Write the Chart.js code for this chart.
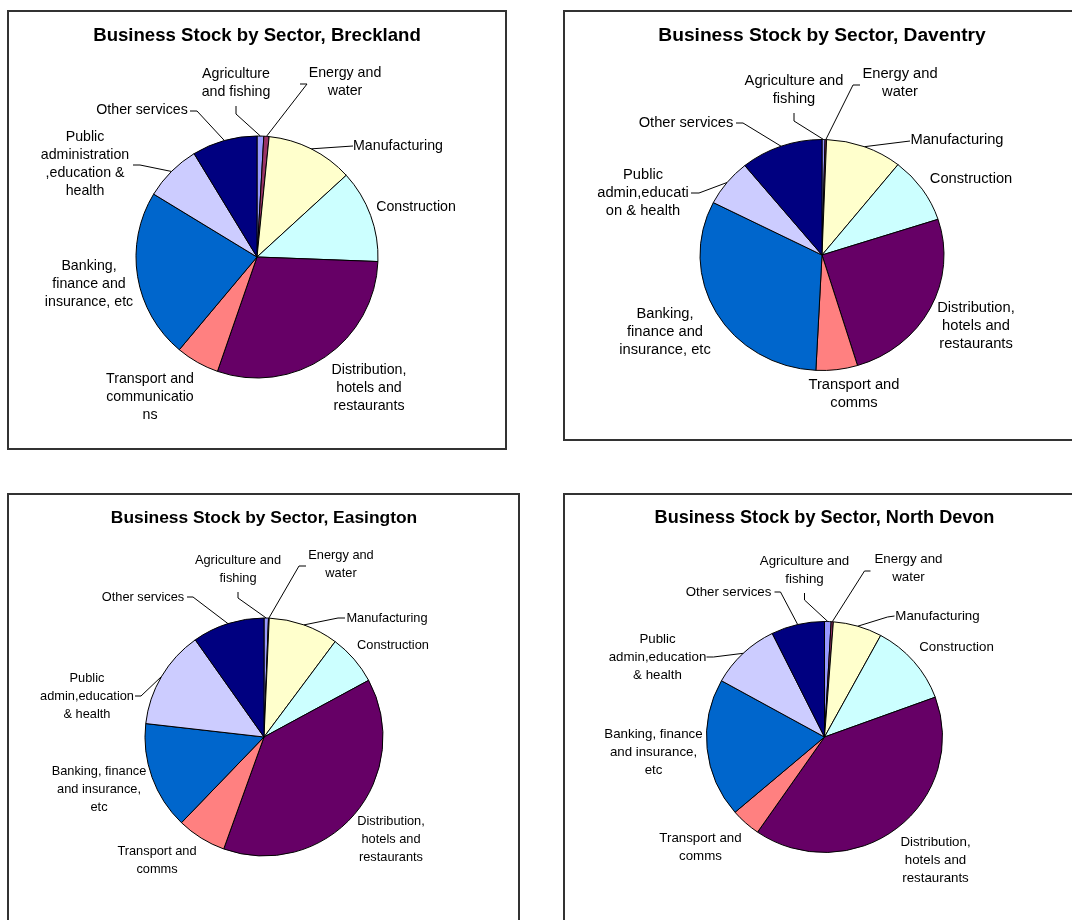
<!DOCTYPE html>
<html>
<head>
<meta charset="utf-8">
<title>Business Stock by Sector</title>
<script src="https://cdn.jsdelivr.net/npm/chart.js@4.4.1/dist/chart.umd.min.js"></script>
<style>
  html, body { margin: 0; padding: 0; background: #fff; overflow: hidden; }
  body { width: 1072px; height: 920px; position: relative; }
  .panel { position: absolute; border: 2px solid #333; box-sizing: border-box; background: #fff; }
  .panel canvas { display: block; }
</style>
</head>
<body>
<div class="panel" id="p-breckland"><canvas id="c-breckland"></canvas></div>
<div class="panel" id="p-daventry"><canvas id="c-daventry"></canvas></div>
<div class="panel" id="p-easington"><canvas id="c-easington"></canvas></div>
<div class="panel" id="p-northdevon"><canvas id="c-northdevon"></canvas></div>

<script>
// ---- data ----
const sectors = [
    "Agriculture and fishing",
    "Energy and water",
    "Manufacturing",
    "Construction",
    "Distribution, hotels and restaurants",
    "Transport and communications",
    "Banking, finance and insurance, etc",
    "Public administration, education & health",
    "Other services"
];

// share of business stock, %
const brecklandShares = [0.9, 0.7, 11.6, 12.4, 29.7, 5.8, 22.6, 7.6, 8.7];
const daventryShares = [0.4, 0.2, 10.1, 9.3, 25.3, 5.5, 31.7, 6.6, 10.9];
const easingtonShares = [0.6, 0.1, 9.5, 6.9, 38.4, 6.7, 14.6, 13.4, 9.8];
const northDevonShares = [0.9, 0.3, 6.7, 11.5, 40.2, 4.1, 19.4, 9.6, 7.3];

// slice captions, one entry per line of text
const brecklandLabels = [
    ["Agriculture", "and fishing"],
    ["Energy and", "water"],
    ["Manufacturing"],
    ["Construction"],
    ["Distribution,", "hotels and", "restaurants"],
    ["Transport and", "communicatio", "ns"],
    ["Banking,", "finance and", "insurance, etc"],
    ["Public", "administration", ",education &", "health"],
    ["Other services"]
];
const daventryLabels = [
    ["Agriculture and", "fishing"],
    ["Energy and", "water"],
    ["Manufacturing"],
    ["Construction"],
    ["Distribution,", "hotels and", "restaurants"],
    ["Transport and", "comms"],
    ["Banking,", "finance and", "insurance, etc"],
    ["Public", "admin,educati", "on & health"],
    ["Other services"]
];
const easingtonLabels = [
    ["Agriculture and", "fishing"],
    ["Energy and", "water"],
    ["Manufacturing"],
    ["Construction"],
    ["Distribution,", "hotels and", "restaurants"],
    ["Transport and", "comms"],
    ["Banking, finance", "and insurance,", "etc"],
    ["Public", "admin,education", "& health"],
    ["Other services"]
];
const northDevonLabels = [
    ["Agriculture and", "fishing"],
    ["Energy and", "water"],
    ["Manufacturing"],
    ["Construction"],
    ["Distribution,", "hotels and", "restaurants"],
    ["Transport and", "comms"],
    ["Banking, finance", "and insurance,", "etc"],
    ["Public", "admin,education", "& health"],
    ["Other services"]
];

// ---- styling ----
const sectorColours = ["#9999FF", "#993366", "#FFFFCC", "#CCFFFF", "#660066", "#FF8080", "#0066CC", "#CCCCFF", "#000080"];
const FONT = "'Liberation Sans', Arial, sans-serif";

// caption placement relative to the pie centre: text centre (dx, dy),
// optional leader = [end x, end y, elbow x, elbow y] that runs on to the slice edge
const brecklandPlaces = [
    { dx: -21, dy: -174, leader: [-21, -151, -21, -143] },
    { dx: 88, dy: -175, leader: [43, -173, 50, -173] },
    { dx: 141, dy: -111, leader: [96, -111, 96, -111] },
    { dx: 159, dy: -50 },
    { dx: 112, dy: 131 },
    { dx: -107, dy: 140 },
    { dx: -168, dy: 27 },
    { dx: -172, dy: -93, leader: [-124, -92, -117, -92] },
    { dx: -115, dy: -147, leader: [-67, -146, -60, -146] }
];
const daventryPlaces = [
    { dx: -28, dy: -165, leader: [-28, -142, -28, -134] },
    { dx: 78, dy: -172, leader: [38, -170, 31, -170] },
    { dx: 135, dy: -115, leader: [88, -114, 88, -114] },
    { dx: 149, dy: -76 },
    { dx: 154, dy: 71 },
    { dx: 32, dy: 139 },
    { dx: -157, dy: 77 },
    { dx: -179, dy: -62, leader: [-131, -62, -123, -62] },
    { dx: -136, dy: -132, leader: [-86, -132, -79, -132] }
];
const easingtonPlaces = [
    { dx: -26, dy: -168, leader: [-26, -145, -26, -139] },
    { dx: 77, dy: -173, leader: [42, -171, 35, -171] },
    { dx: 123, dy: -119, leader: [81, -119, 74, -119] },
    { dx: 129, dy: -92 },
    { dx: 127, dy: 102 },
    { dx: -107, dy: 123 },
    { dx: -165, dy: 52 },
    { dx: -177, dy: -41, leader: [-129, -41, -123, -41] },
    { dx: -121, dy: -140, leader: [-77, -140, -71, -140] }
];
const northDevonPlaces = [
    { dx: -20, dy: -167, leader: [-20, -144, -20, -137] },
    { dx: 84, dy: -169, leader: [46, -166, 40, -166] },
    { dx: 113, dy: -121, leader: [70, -121, 63, -120] },
    { dx: 132, dy: -90 },
    { dx: 111, dy: 123 },
    { dx: -124, dy: 110 },
    { dx: -171, dy: 15 },
    { dx: -167, dy: -80, leader: [-118, -80, -111, -80] },
    { dx: -96, dy: -145, leader: [-50, -145, -44, -145] }
];

// panel frame [left, top, width, height] and pie [cx, cy, rx, ry] in page pixels
const panels = [
    { key: "breckland", title: "Business Stock by Sector, Breckland", frame: [7, 10, 500, 440],
      pie: [257, 257, 121, 121], titleY: 36, titleSize: 18.6, textSize: 14.2,
      shares: brecklandShares, labels: brecklandLabels, places: brecklandPlaces },
    { key: "daventry", title: "Business Stock by Sector, Daventry", frame: [563, 10, 530, 431],
      pie: [822, 255, 122, 115.5], titleY: 36, titleSize: 19.2, textSize: 14.7,
      shares: daventryShares, labels: daventryLabels, places: daventryPlaces },
    { key: "easington", title: "Business Stock by Sector, Easington", frame: [7, 493, 513, 440],
      pie: [264, 737, 119, 119], titleY: 518, titleSize: 17.4, textSize: 12.8,
      shares: easingtonShares, labels: easingtonLabels, places: easingtonPlaces },
    { key: "northdevon", title: "Business Stock by Sector, North Devon", frame: [563, 493, 530, 440],
      pie: [824.5, 737, 118, 115.5], titleY: 518, titleSize: 18.1, textSize: 13.3,
      shares: northDevonShares, labels: northDevonLabels, places: northDevonPlaces }
];

// squashes the pie vertically (rx -> ry), then adds title, captions and leader lines
const sliceCaptions = {
    id: "sliceCaptions",
    beforeDatasetsDraw(chart, args, opts) {
        const arc = chart.getDatasetMeta(0).data[0];
        const ctx = chart.ctx;
        ctx.save();
        ctx.translate(arc.x, arc.y);
        ctx.scale(1, opts.squash);
        ctx.translate(-arc.x, -arc.y);
    },
    afterDatasetsDraw(chart, args, opts) {
        const ctx = chart.ctx;
        ctx.restore();

        const arcs = chart.getDatasetMeta(0).data;
        const captions = chart.data.labels;

        ctx.save();
        ctx.fillStyle = "#000";
        ctx.strokeStyle = "#000";
        ctx.lineWidth = 1;
        ctx.textAlign = "center";
        ctx.textBaseline = "middle";

        ctx.font = "bold " + opts.titleSize + "px " + FONT;
        ctx.fillText(opts.title, arcs[0].x, opts.titleY);

        ctx.font = opts.textSize + "px " + FONT;
        arcs.forEach(function (arc, i) {
            const place = opts.places[i];
            const p = arc.getProps(["x", "y", "outerRadius", "startAngle", "endAngle"], true);
            const mid = (p.startAngle + p.endAngle) / 2;
            const lines = captions[i];
            const n = lines.length;

            lines.forEach(function (line, k) {
                ctx.fillText(line, p.x + place.dx, p.y + place.dy + (k - (n - 1) / 2) * opts.lineHeight);
            });

            if (place.leader) {
                const l = place.leader;
                ctx.beginPath();
                ctx.moveTo(p.x + l[0], p.y + l[1]);
                ctx.lineTo(p.x + l[2], p.y + l[3]);
                ctx.lineTo(p.x + p.outerRadius * Math.cos(mid), p.y + opts.squash * p.outerRadius * Math.sin(mid));
                ctx.stroke();
            }
        });
        ctx.restore();
    }
};

function buildPanel(panel) {
    const BORDER = 2;
    const frame = panel.frame;
    const box = document.getElementById("p-" + panel.key);
    box.style.left = frame[0] + "px";
    box.style.top = frame[1] + "px";
    box.style.width = frame[2] + "px";
    box.style.height = frame[3] + "px";

    const canvas = document.getElementById("c-" + panel.key);
    const w = frame[2] - 2 * BORDER;
    const h = frame[3] - 2 * BORDER;
    canvas.width = w;
    canvas.height = h;

    // local pie centre; padding keeps the chart area centred on it
    const lx = panel.pie[0] - frame[0] - BORDER;
    const ly = panel.pie[1] - frame[1] - BORDER;
    const r = panel.pie[2];

    return new Chart(canvas.getContext("2d"), {
        type: "pie",
        data: {
            labels: panel.labels,
            datasets: [{
                data: panel.shares,
                backgroundColor: sectorColours,
                borderColor: "#000",
                borderWidth: 1,
                radius: r
            }]
        },
        options: {
            responsive: false,
            animation: false,
            events: [],
            layout: {
                padding: {
                    left: lx - r - 1,
                    right: w - lx - r - 1,
                    top: ly - r - 1,
                    bottom: h - ly - r - 1
                }
            },
            plugins: {
                legend: { display: false },
                tooltip: { enabled: false },
                sliceCaptions: {
                    title: panel.title,
                    titleY: panel.titleY - frame[1] - BORDER,
                    titleSize: panel.titleSize,
                    textSize: panel.textSize,
                    squash: panel.pie[3] / panel.pie[2],
                    places: panel.places,
                    lineHeight: 18
                }
            }
        },
        plugins: [sliceCaptions]
    });
}

panels.forEach(buildPanel);
</script>
</body>
</html>
